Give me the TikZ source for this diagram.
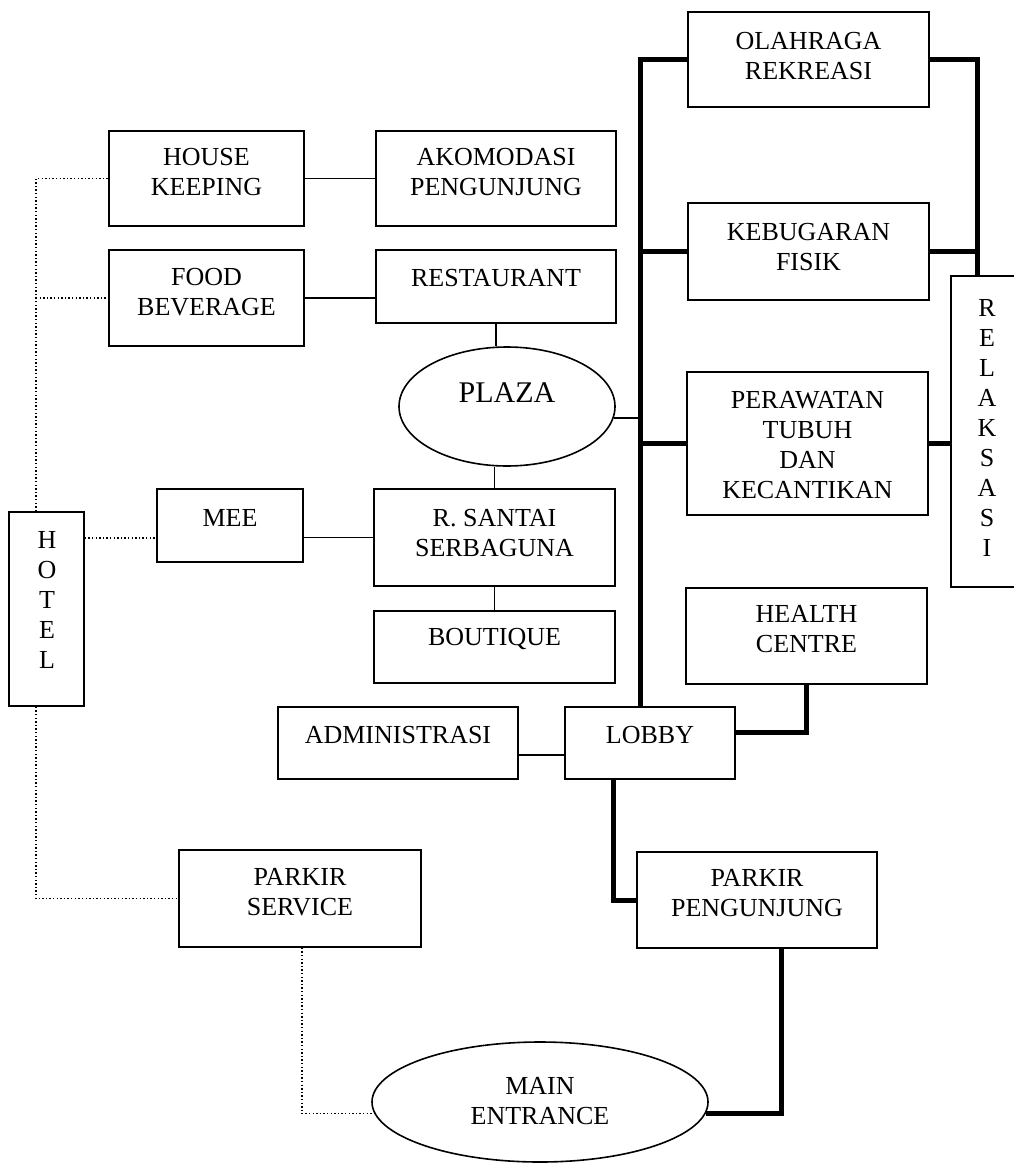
\documentclass[tikz,border=0pt]{standalone}
\usepackage{fontspec}
\setmainfont{Liberation Serif}
\usetikzlibrary{shapes.geometric}
\begin{document}
\begin{tikzpicture}[x=1pt,y=-1pt,
  box/.style={draw, line width=1.6pt, inner sep=0pt, rectangle},
  ell/.style={draw, line width=1.6pt, ellipse, inner sep=0pt},
  txt/.style={inner sep=0pt, align=center, font=\fontsize{26}{30}\selectfont},
  thinline/.style={line width=1.6pt},
  heavy/.style={line width=5pt},
  dots/.style={line width=1.7pt, dash pattern=on 1.4pt off 2.2pt}]
\useasboundingbox (0,0) rectangle (1014,1164);
\clip (0,0) rectangle (1014,1164);
\fill[white] (0,0) rectangle (1014,1164);

% boxes
\node[box, minimum width=241pt, minimum height=95pt] (olah) at (808.5,59.5) {};
\node[box, minimum width=241pt, minimum height=97pt] (kebu) at (808.5,251.5) {};
\node[box, minimum width=241pt, minimum height=143pt] (pera) at (807.5,443.5) {};
\node[box, minimum width=65pt, minimum height=311pt] (relak) at (983.5,431.5) {};
\node[box, minimum width=195pt, minimum height=95pt] (house) at (206.5,178.5) {};
\node[box, minimum width=240pt, minimum height=95pt] (akom) at (496,178.5) {};
\node[box, minimum width=195pt, minimum height=96pt] (food) at (206.5,298) {};
\node[box, minimum width=240pt, minimum height=73pt] (rest) at (496,286.5) {};
\node[ell, minimum width=216pt, minimum height=119pt] (plaza) at (507,406.5) {};
\node[box, minimum width=146pt, minimum height=73pt] (mee) at (230,525.5) {};
\node[box, minimum width=241pt, minimum height=97pt] (santai) at (494.5,537.5) {};
\node[box, minimum width=241pt, minimum height=72pt] (bout) at (494.5,647) {};
\node[box, minimum width=240pt, minimum height=72pt] (admin) at (398,743) {};
\node[box, minimum width=170pt, minimum height=72pt] (lobby) at (650,743) {};
\node[box, minimum width=241pt, minimum height=96pt] (health) at (806.5,636) {};
\node[box, minimum width=75pt, minimum height=194pt] (hotel) at (46.5,609) {};
\node[box, minimum width=242pt, minimum height=97pt] (ps) at (300,898.5) {};
\node[box, minimum width=240pt, minimum height=96pt] (pp) at (757,900) {};
\node[ell, minimum width=336pt, minimum height=120pt] (main) at (540,1102) {};

% texts
\node[txt] (olah-t) at (808.5,56) {OLAHRAGA\\REKREASI};
\node[txt] (kebu-t) at (808.5,247.5) {KEBUGARAN\\FISIK};
\node[txt] (pera-t) at (807.5,445) {PERAWATAN\\TUBUH\\DAN\\KECANTIKAN};
\node[txt] (relak-t) at (987,428) {R\\E\\L\\A\\K\\S\\A\\S\\I};
\node[txt] (house-t) at (206.5,172) {HOUSE\\KEEPING};
\node[txt] (akom-t) at (496,172) {AKOMODASI\\PENGUNJUNG};
\node[txt] (food-t) at (206.5,292.5) {FOOD\\BEVERAGE};
\node[txt] (rest-t) at (496,278) {RESTAURANT};
\node[txt, font=\fontsize{30}{34}\selectfont] (plaza-t) at (507,393) {PLAZA};
\node[txt] (mee-t) at (230,518) {MEE};
\node[txt] (santai-t) at (494.5,533) {R. SANTAI\\SERBAGUNA};
\node[txt, text depth=0pt] (bout-t) at (494.5,637) {BOUTIQUE};
\node[txt] (admin-t) at (398,735) {ADMINISTRASI};
\node[txt] (lobby-t) at (650,735) {LOBBY};
\node[txt] (health-t) at (806.5,629) {HEALTH\\CENTRE};
\node[txt] (hotel-t) at (47,600) {H\\O\\T\\E\\L};
\node[txt] (ps-t) at (300,892) {PARKIR\\SERVICE};
\node[txt] (pp-t) at (757,893) {PARKIR\\PENGUNJUNG};
\node[txt] (main-t) at (540,1101) {MAIN\\ENTRANCE};

% helper coordinates
\coordinate (spx) at (640,0);
\coordinate (rx) at (977,0);
\coordinate (hx) at (36,0);

% thin connectors
\draw[thinline] (house) -- (akom);
\draw[thinline] (food.east) -- (food.east -| rest.west);
\draw[thinline] (rest.south) -- (rest.south |- plaza.north);
\draw[thinline] (santai.north |- plaza.south) -- (santai.north);
\draw[thinline] (santai) -- (bout);
\draw[thinline] (santai.west -| mee.east) -- (santai.west);
\draw[line width=1.1pt] ([yshift=-12pt]admin.east) -- ([yshift=-12pt]lobby.west);
\draw[thinline] (plaza.-6.2) -- (plaza.-6.2 -| spx);

% heavy connectors
\draw[heavy] (lobby.north -| spx) -- (spx |- olah.west) -- (olah.west);
\draw[heavy] (olah.east) -- (olah.east -| rx) -- (rx |- relak.north);
\draw[heavy] (spx |- kebu.west) -- (kebu.west);
\draw[heavy] (kebu.east) -- (kebu.east -| rx);
\draw[heavy] (spx |- pera.west) -- (pera.west);
\draw[heavy] (pera.east) -- (pera.east -| relak.west);
\draw[heavy] (health.south) |- ([yshift=11pt]lobby.east);
\draw[heavy] ([xshift=-37pt]lobby.south) |- (pp.west);
\draw[heavy] ([xshift=24pt]pp.south) |- (main.-4.9);

% dotted connectors
\draw[dots] (hotel.north -| hx) -- (hx |- house.west) -- (house.west);
\draw[dots] (hx |- food.west) -- (food.west);
\draw[dots] ([yshift=-12.5pt]mee.west -| hotel.east) -- ([yshift=-12.5pt]mee.west);
\draw[dots] (hotel.south -| hx) -- (hx |- ps.west) -- (ps.west);
\draw[dots] ([xshift=2pt]ps.south) |- (main.184.9);
\end{tikzpicture}
\end{document}
